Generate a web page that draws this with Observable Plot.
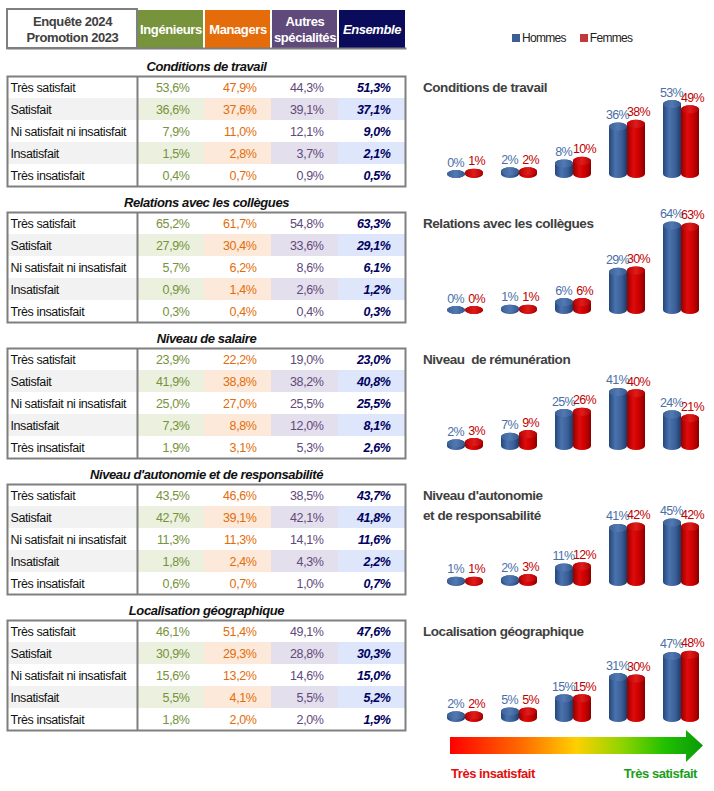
<!DOCTYPE html>
<html><head><meta charset="utf-8">
<script src="https://cdn.jsdelivr.net/npm/d3@7"></script>
<script src="https://cdn.jsdelivr.net/npm/@observablehq/plot@0.6"></script>
<style>
body{margin:0;background:#fff}
#page{position:relative;width:714px;height:791px;overflow:hidden;background:#fff;font-family:"Liberation Sans",Arial,sans-serif}
.ctitle{position:absolute;left:423px;font-weight:bold;font-size:13.5px;color:#404040;line-height:20px;white-space:pre;letter-spacing:-0.45px}
#legend, #legend *{font-family:"Liberation Sans",Arial,sans-serif !important;font-size:12px !important;color:#222 !important;letter-spacing:-0.7px}
#legend span{margin-right:14px !important}
#legend svg{margin-right:2px !important}
.lab{position:absolute;top:764px;font-weight:bold;font-size:13px;line-height:20px;letter-spacing:-0.45px}
</style></head><body>
<svg width="0" height="0" style="position:absolute">
<defs>
<linearGradient id="gBlue" x1="0" x2="1" y1="0" y2="0">
<stop offset="0" stop-color="#23467c"/><stop offset="0.35" stop-color="#4a73ad"/><stop offset="0.7" stop-color="#3a5f98"/><stop offset="1" stop-color="#1d3a66"/>
</linearGradient>
<linearGradient id="gBlueTop" x1="0" x2="1" y1="0" y2="0">
<stop offset="0" stop-color="#3d6299"/><stop offset="0.5" stop-color="#5279b3"/><stop offset="1" stop-color="#34578d"/>
</linearGradient>
<linearGradient id="gRed" x1="0" x2="1" y1="0" y2="0">
<stop offset="0" stop-color="#960000"/><stop offset="0.35" stop-color="#e00b0b"/><stop offset="0.7" stop-color="#c80000"/><stop offset="1" stop-color="#880000"/>
</linearGradient>
<linearGradient id="gRedTop" x1="0" x2="1" y1="0" y2="0">
<stop offset="0" stop-color="#b80000"/><stop offset="0.5" stop-color="#e01c1c"/><stop offset="1" stop-color="#b00000"/>
</linearGradient>
<linearGradient id="gArrow" x1="0" x2="1" y1="0" y2="0">
<stop offset="0" stop-color="#ff0000"/><stop offset="0.28" stop-color="#ff6a00"/><stop offset="0.5" stop-color="#ffd000"/><stop offset="0.68" stop-color="#8fd400"/><stop offset="0.85" stop-color="#20c000"/><stop offset="1" stop-color="#0a9a0a"/>
</linearGradient>
</defs></svg>
<div id="page"></div>
<script>
// ---------- DATA ----------
const levels = ["Très satisfait", "Satisfait", "Ni satisfait ni insatisfait", "Insatisfait", "Très insatisfait"];
const groups = ["Ingénieurs", "Managers", "Autres spécialités", "Ensemble"];
const sectionTitles = ["Conditions de travail", "Relations avec les collègues", "Niveau de salaire",
  "Niveau d'autonomie et de responsabilité", "Localisation géographique"];
const chartTitles = ["Conditions de travail", "Relations avec les collègues", "Niveau  de rémunération",
  "Niveau d'autonomie\net de responsabilité", "Localisation géographique"];
const headerLabel = "Enquête 2024\nPromotion 2023";

// table values (rows in order of `levels`), one array per section
const ingenieurs = [
  [53.6, 36.6, 7.9, 1.5, 0.4],
  [65.2, 27.9, 5.7, 0.9, 0.3],
  [23.9, 41.9, 25.0, 7.3, 1.9],
  [43.5, 42.7, 11.3, 1.8, 0.6],
  [46.1, 30.9, 15.6, 5.5, 1.8]
];
const managers = [
  [47.9, 37.6, 11.0, 2.8, 0.7],
  [61.7, 30.4, 6.2, 1.4, 0.4],
  [22.2, 38.8, 27.0, 8.8, 3.1],
  [46.6, 39.1, 11.3, 2.4, 0.7],
  [51.4, 29.3, 13.2, 4.1, 2.0]
];
const autres = [
  [44.3, 39.1, 12.1, 3.7, 0.9],
  [54.8, 33.6, 8.6, 2.6, 0.4],
  [19.0, 38.2, 25.5, 12.0, 5.3],
  [38.5, 42.1, 14.1, 4.3, 1.0],
  [49.1, 28.8, 14.6, 5.5, 2.0]
];
const ensemble = [
  [51.3, 37.1, 9.0, 2.1, 0.5],
  [63.3, 29.1, 6.1, 1.2, 0.3],
  [23.0, 40.8, 25.5, 8.1, 2.6],
  [43.7, 41.8, 11.6, 2.2, 0.7],
  [47.6, 30.3, 15.0, 5.2, 1.9]
];

// bar charts: categories from "Très insatisfait" to "Très satisfait"
const chartCats = ["Très insatisfait", "Insatisfait", "Ni satisfait ni insatisfait", "Satisfait", "Très satisfait"];
const hommes = [
  [0, 2, 8, 36, 53],
  [0, 1, 6, 29, 64],
  [2, 7, 25, 41, 24],
  [1, 2, 11, 41, 45],
  [2, 5, 15, 31, 47]
];
const femmes = [
  [1, 2, 10, 38, 49],
  [0, 1, 6, 30, 63],
  [3, 9, 26, 40, 21],
  [1, 3, 12, 42, 42],
  [2, 5, 15, 30, 48]
];
const genders = ["Hommes", "Femmes"];

// ---------- STYLE ----------
const FONT = '"Liberation Sans",Arial,sans-serif';
const headFill = ["#77933c", "#e46c0a", "#604a7b", "#0b0b5c"];
const textFill = ["#76923c", "#e36c09", "#5f497a", "#000060"];
const tints = ["#ebf1de", "#fde9d9", "#e4dfec", "#dde6fa"];
const GRID = "#7f7f7f";
const LW = 1.94; // width of the label column, in value-column units
const series = [ingenieurs, managers, autres, ensemble];
const fmt = v => d3.format(".1f")(v).replace(".", ",") + "%";
const page = document.getElementById("page");
const svgStyle = ls => ({background: "transparent", overflow: "visible", fontFamily: FONT, letterSpacing: ls});

function place(node, left, top) {
  node.style.position = "absolute";
  node.style.left = left + "px";
  node.style.top = top + "px";
  page.appendChild(node);
}

// ---------- HEADER ----------
const header = Plot.plot({
  width: 410, height: 52, marginLeft: 7, marginRight: 5, marginTop: 9, marginBottom: 4,
  x: {domain: [-LW, groups.length], axis: null},
  style: svgStyle("-0.4px"),
  marks: [
    Plot.barX([headerLabel], {x1: -LW, x2: 0, fill: "white", stroke: GRID, strokeWidth: 2}),
    ...groups.map((g, c) => Plot.barX([g], {x1: c, x2: c + 1, fill: headFill[c], insetLeft: 1, insetRight: c === groups.length - 1 ? 0 : 1, insetTop: 1})),
    Plot.frame({anchor: "bottom", stroke: GRID, strokeWidth: 2}),
    Plot.text([headerLabel], {x: -LW / 2, frameAnchor: "middle", text: d => d, fontSize: 13, fontWeight: "bold", fill: "#404040", lineHeight: 1.25}),
    ...groups.map((g, c) => Plot.text([g], {x: c + 0.5, frameAnchor: "middle", text: d => d.replace(" ", "\n"),
      fontSize: 13, fontWeight: "bold", fontStyle: c === 3 ? "italic" : "normal", fill: "white", lineHeight: 1.25}))
  ]
});
place(header, 0, 0);

// ---------- TABLES ----------
sectionTitles.forEach((title, k) => {
  const cells = [];
  levels.forEach((lev, r) => groups.forEach((g, c) => cells.push({lev, r, c, v: series[c][k][r]})));
  const labels = levels.map((lev, r) => ({lev, r}));
  const plot = Plot.plot({
    width: 410, height: 132, marginLeft: 7, marginRight: 5, marginTop: 20, marginBottom: 2,
    x: {domain: [-LW, groups.length], axis: null},
    y: {domain: levels, padding: 0, axis: null},
    style: svgStyle("-0.4px"),
    marks: [
      Plot.barX(labels.filter(d => d.r % 2 === 1), {x1: -LW, x2: 0, y: "lev", fill: "#f2f2f2"}),
      ...groups.map((g, c) => Plot.barX(cells.filter(d => d.c === c && d.r % 2 === 1), {x1: c, x2: c + 1, y: "lev", fill: tints[c]})),
      Plot.frame({stroke: GRID, strokeWidth: 2}),
      Plot.ruleX([0], {stroke: GRID, strokeWidth: 2}),
      Plot.text(labels, {x: -LW, y: "lev", text: "lev", textAnchor: "start", dx: 3, fontSize: 12.5, fill: "#111"}),
      ...groups.map((g, c) => Plot.text(cells.filter(d => d.c === c), {
        x: c + 1, y: "lev", text: d => fmt(d.v), textAnchor: "end", dx: -15, fontSize: 12.5,
        fill: textFill[c], fontWeight: c === 3 ? "bold" : "normal", fontStyle: c === 3 ? "italic" : "normal"})),
      Plot.text([title], {frameAnchor: "top", lineAnchor: "middle", dy: -10, fontSize: 13, fontWeight: "bold", fontStyle: "italic", fill: "#111"})
    ]
  });
  place(plot, 0, 56 + 136 * k);
});

// ---------- LEGEND ----------
const legend = Plot.legend({color: {type: "categorical", domain: genders, range: ["#3c5f96", "#c0393b"]}, swatchSize: 8});
const legWrap = document.createElement("div");
legWrap.id = "legend";
legWrap.appendChild(legend);
place(legWrap, 512, 21);

// ---------- BAR CHARTS ----------
chartTitles.forEach((title, k) => {
  const H = chartCats.map((cat, i) => ({cat, v: hommes[k][i]}));
  const F = chartCats.map((cat, i) => ({cat, v: femmes[k][i]}));
  const common = {x: "cat", insetTop: -4, insetBottom: -4, rx: 9, ry: 4};
  const plot = Plot.plot({
    width: 294, height: 120, marginLeft: 18, marginRight: 6, marginTop: 8.4, marginBottom: 6,
    x: {domain: chartCats, padding: 0, axis: null},
    y: {domain: [0, 80], axis: null},
    style: svgStyle("-0.7px"),
    marks: [
      Plot.barY(H, {...common, y1: 0, y2: "v", insetLeft: 9, insetRight: 27, fill: "url(#gBlue)"}),
      Plot.barY(H, {...common, y1: "v", y2: "v", insetLeft: 9, insetRight: 27, fill: "url(#gBlueTop)"}),
      Plot.barY(F, {...common, y1: 0, y2: "v", insetLeft: 27, insetRight: 9, fill: "url(#gRed)"}),
      Plot.barY(F, {...common, y1: "v", y2: "v", insetLeft: 27, insetRight: 9, fill: "url(#gRedTop)"}),
      Plot.text(H, {x: "cat", y: "v", text: d => d.v + "%", dx: -10, dy: -12, fontSize: 12.5, fill: "#4a6fa8"}),
      Plot.text(F, {x: "cat", y: "v", text: d => d.v + "%", dx: 11, dy: -12, fontSize: 12.5, fill: "#c00000"})
    ]
  });
  place(plot, 420, 60 + 136 * k);
  const t = document.createElement("div");
  t.className = "ctitle";
  t.textContent = title;
  t.style.top = (78 + 136 * k) + "px";
  page.appendChild(t);
});

// ---------- ARROW (decoration) ----------
const arrow = document.createElementNS("http://www.w3.org/2000/svg", "svg");
arrow.setAttribute("width", 265); arrow.setAttribute("height", 40);
arrow.innerHTML = '<path d="M5,12 L241,12 L241,5 L258,20.5 L241,37 L241,29 L5,29 Z" fill="url(#gArrow)"/>';
place(arrow, 445, 725);
const l1 = document.createElement("div"); l1.className = "lab"; l1.style.left = "451px"; l1.style.color = "#e01010"; l1.textContent = "Très insatisfait"; page.appendChild(l1);
const l2 = document.createElement("div"); l2.className = "lab"; l2.style.right = "17px"; l2.style.color = "#1a9e1a"; l2.textContent = "Très satisfait"; page.appendChild(l2);
</script>
</body></html>
